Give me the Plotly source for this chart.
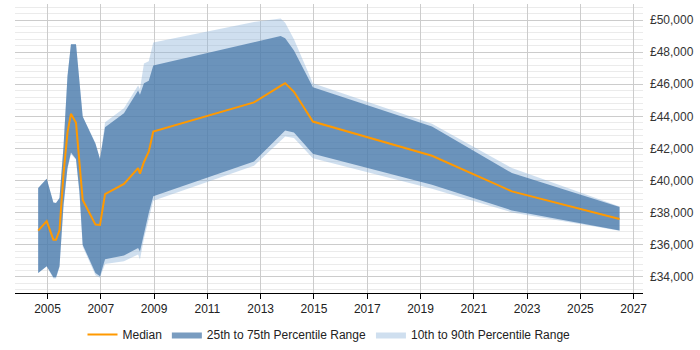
import plotly.graph_objects as go

years = [2004.65, 2004.97, 2005.22, 2005.32, 2005.45, 2005.6, 2005.75, 2005.88, 2006.07, 2006.2,
         2006.32, 2006.8, 2006.97, 2007.16, 2007.87, 2008.4, 2008.47, 2008.62, 2008.8, 2008.97,
         2012.75, 2013.75, 2013.92, 2014.25, 2014.96, 2019.43, 2022.43, 2026.47]

median = [36880, 37480, 36320, 36320, 36900, 40400, 43000, 44160, 43600, 41300,
          38800, 37260, 37240, 39160, 39790, 40780, 40430, 41160, 41800, 43060,
          44870, 45900, 46070, 45530, 43680, 41550, 39330, 37610]

p75 = [39540, 40120, 38640, 38600, 38910, 42100, 46500, 48500, 48500, 46300,
       44000, 42300, 41340, 43330, 44200, 45610, 45340, 46070, 46220, 47170,
       48600, 49010, 48870, 48100, 45820, 43370, 40470, 38350]

p25 = [34250, 34660, 33980, 33980, 34660, 38500, 40800, 41750, 41340, 39300,
       36010, 34250, 34040, 35100, 35340, 35800, 35590, 36740, 37980, 39020,
       41190, 42840, 43120, 43000, 41670, 39740, 38140, 36900]

p90 = [39540, 40120, 38640, 38600, 38910, 42100, 46500, 48500, 48500, 46300,
       44000, 42340, 41340, 43640, 44510, 45920, 45700, 47300, 47430, 48600,
       49880, 50100, 49830, 48800, 46070, 43540, 40780, 38380]

p10 = [34250, 34660, 33900, 33900, 34600, 38300, 40700, 41650, 41300, 39100,
       35900, 34100, 33950, 34800, 34970, 35400, 35080, 36400, 37600, 38750,
       40930, 42500, 42750, 42650, 41400, 39500, 38020, 36880]

x_ticks = list(range(2005, 2028, 2))
y_ticks = list(range(34000, 50001, 2000))

LIGHT = "rgba(140,178,216,0.42)"
DARK = "rgba(64,114,165,0.7)"
ORANGE = "#ff9900"

fig = go.Figure()
fig.add_trace(go.Scatter(x=years, y=p90, mode="lines", line=dict(width=0, color=LIGHT),
                         showlegend=False, hoverinfo="skip"))
fig.add_trace(go.Scatter(x=years, y=p10, mode="lines", line=dict(width=0, color=LIGHT),
                         fill="tonexty", fillcolor=LIGHT, name="10th to 90th Percentile Range",
                         legendrank=3))
fig.add_trace(go.Scatter(x=years, y=p75, mode="lines", line=dict(width=0, color=DARK),
                         showlegend=False, hoverinfo="skip"))
fig.add_trace(go.Scatter(x=years, y=p25, mode="lines", line=dict(width=0, color=DARK),
                         fill="tonexty", fillcolor=DARK, name="25th to 75th Percentile Range",
                         legendrank=2))
fig.add_trace(go.Scatter(x=years, y=median, mode="lines", line=dict(width=2, color=ORANGE),
                         name="Median", legendrank=1))

fig.update_layout(
    width=700, height=350,
    margin=dict(l=15, r=57, t=4, b=57, autoexpand=False),
    paper_bgcolor="white", plot_bgcolor="white",
    font=dict(family="Liberation Sans, Arial, sans-serif", size=12, color="#222"),
    legend=dict(orientation="h", x=0.5, xanchor="center", y=-0.144, yanchor="middle",
                font=dict(size=12, color="#222"), traceorder="normal",
                itemwidth=30, tracegroupgap=0),
    xaxis=dict(range=[2003.78, 2027.35], tickmode="array", tickvals=x_ticks,
               ticktext=[str(v) for v in x_ticks],
               showgrid=True, gridcolor="#cccccc", gridwidth=1,
               showline=True, linecolor="#000", linewidth=1,
               ticks="outside", ticklen=5, tickcolor="#000",
               zeroline=False, tickfont=dict(size=12, color="#222")),
    yaxis=dict(range=[33000, 51000], side="right", tickmode="array", tickvals=y_ticks,
               ticktext=["£{:,}".format(v) for v in y_ticks],
               showgrid=True, gridcolor="#cccccc", gridwidth=1,
               minor=dict(dtick=400, tick0=0, showgrid=True, gridcolor="#ebebeb", gridwidth=1),
               showline=False, zeroline=False, ticks="", ticklabelstandoff=6,
               tickfont=dict(size=12, color="#333")),
)

fig.write_html("out.html")
